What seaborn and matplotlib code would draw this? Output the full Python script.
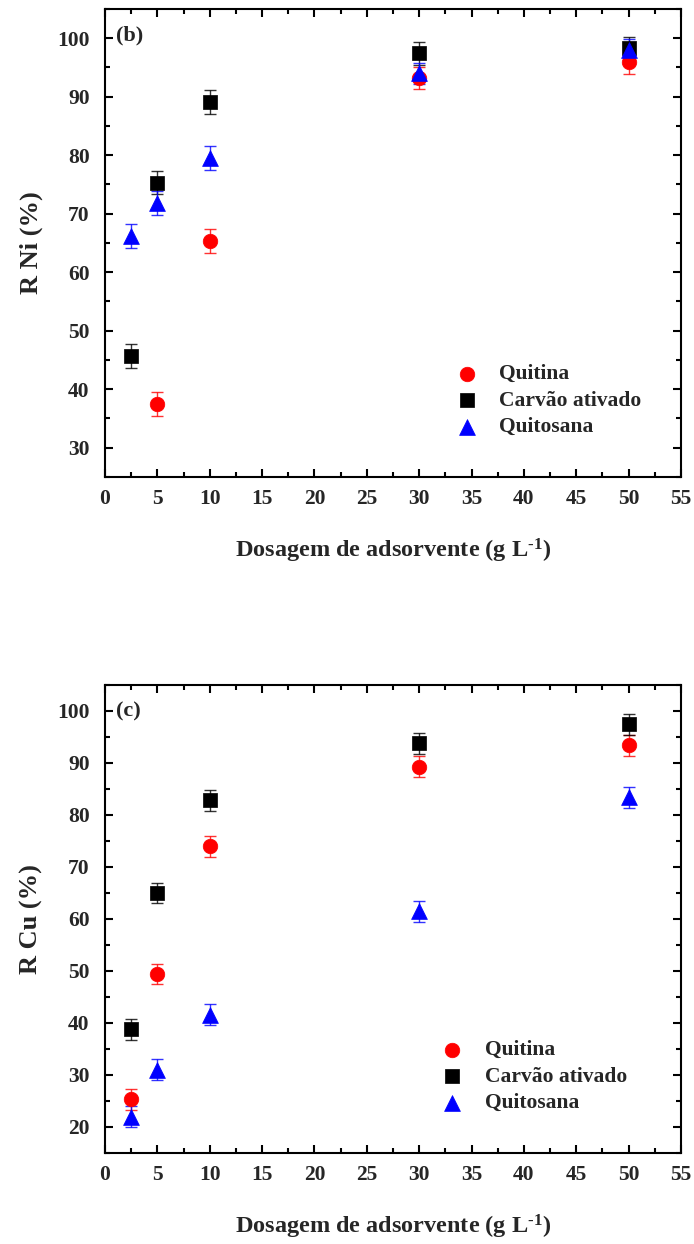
import matplotlib
matplotlib.use("Agg")
import matplotlib.pyplot as plt
import seaborn as sns
import pandas as pd
import numpy as np
from matplotlib.ticker import MultipleLocator

# ---- data ----
materials = ["Quitina", "Carvão ativado", "Quitosana"]

ni_dose_quitina = [5, 10, 30, 50]
ni_quitina = [37.5, 65.3, 93.2, 95.9]
ni_quitina_err = [2.0, 2.0, 1.8, 2.0]

ni_dose_carvao = [2.5, 5, 10, 30, 50]
ni_carvao = [45.7, 75.3, 89.1, 97.4, 98.3]
ni_carvao_err = [2.0, 2.0, 2.0, 1.9, 1.9]

ni_dose_quitosana = [2.5, 5, 10, 30, 50]
ni_quitosana = [66.2, 71.8, 79.5, 94.0, 97.9]
ni_quitosana_err = [2.0, 2.0, 2.0, 1.8, 1.9]

cu_dose_quitina = [2.5, 5, 10, 30, 50]
cu_quitina = [25.3, 49.4, 74.0, 89.3, 93.4]
cu_quitina_err = [2.0, 2.0, 2.0, 2.0, 2.0]

cu_dose_carvao = [2.5, 5, 10, 30, 50]
cu_carvao = [38.8, 65.0, 82.8, 93.8, 97.4]
cu_carvao_err = [2.0, 2.0, 2.0, 2.0, 2.0]

cu_dose_quitosana = [2.5, 5, 10, 30, 50]
cu_quitosana = [22.0, 31.0, 41.6, 61.5, 83.4]
cu_quitosana_err = [2.0, 2.0, 2.0, 2.0, 2.0]

x_ticks = [0, 5, 10, 15, 20, 25, 30, 35, 40, 45, 50, 55]

sns.set_theme(style="ticks")
plt.rcParams['font.family'] = ['Liberation Serif', 'DejaVu Serif']
plt.rcParams['font.weight'] = 'bold'
plt.rcParams['mathtext.fontset'] = 'custom'
plt.rcParams['mathtext.rm'] = 'Liberation Serif:bold'
plt.rcParams['mathtext.bf'] = 'Liberation Serif:bold'
plt.rcParams['mathtext.it'] = 'Liberation Serif:bold'

colors = {"Quitina": "#ff0000", "Carvão ativado": "#000000", "Quitosana": "#0000ff"}
marks = {"Quitina": "o", "Carvão ativado": "s", "Quitosana": "^"}
sizes = {"Quitina": 110, "Carvão ativado": 90, "Quitosana": 130}


def build(doses, vals, errs):
    rows = []
    for m, d, v, e in zip(materials, doses, vals, errs):
        for dd, vv, ee in zip(d, v, e):
            rows.append({"dose": dd, "R": vv, "err": ee, "mat": m})
    return pd.DataFrame(rows)


df_ni = build([ni_dose_quitina, ni_dose_carvao, ni_dose_quitosana],
              [ni_quitina, ni_carvao, ni_quitosana],
              [ni_quitina_err, ni_carvao_err, ni_quitosana_err])
df_cu = build([cu_dose_quitina, cu_dose_carvao, cu_dose_quitosana],
              [cu_quitina, cu_carvao, cu_quitosana],
              [cu_quitina_err, cu_carvao_err, cu_quitosana_err])

fig = plt.figure(figsize=(6.94, 12.44), dpi=100)
ax1 = fig.add_axes([0.1513, 0.6166, 0.83, 0.3762])
ax2 = fig.add_axes([0.1513, 0.0732, 0.83, 0.3762])


def draw(ax, df, ylabel, ylim, yticks, panel, legx):
    for m in materials:
        sub = df[df.mat == m]
        ax.errorbar(sub.dose, sub.R, yerr=sub.err, fmt='none', ecolor=colors[m],
                    elinewidth=1.0, capsize=4, capthick=1.0, alpha=0.8, zorder=2)
    for m in materials:
        sub = df[df.mat == m]
        sns.scatterplot(data=sub, x="dose", y="R", ax=ax, color=colors[m],
                        marker=marks[m], s=sizes[m], edgecolor=colors[m],
                        linewidth=0.5, label=m, zorder=3)
    ax.set_xlim(0, 55)
    ax.set_ylim(*ylim)
    ax.set_xticks(x_ticks)
    ax.set_yticks(yticks)
    ax.xaxis.set_minor_locator(MultipleLocator(2.5))
    ax.yaxis.set_minor_locator(MultipleLocator(5))
    ax.tick_params(which='both', direction='in', top=True, right=True,
                   labelright=False, labeltop=False, width=1.5, color='black')
    ax.tick_params(which='major', length=6, labelsize=15.5)
    ax.tick_params(axis='y', which='major', pad=11)
    ax.tick_params(axis='x', which='major', pad=9)
    ax.tick_params(which='minor', length=3.5)
    for lab in ax.get_xticklabels() + ax.get_yticklabels():
        lab.set_fontweight('bold')
    for sp in ax.spines.values():
        sp.set_linewidth(1.5)
        sp.set_color('black')
    ax.set_xlabel("Dosagem de adsorvente (g L$^{\\text{-1}}$)", fontsize=17.5,
                  fontweight='bold', labelpad=20)
    ax.set_ylabel(ylabel, fontsize=19, fontweight='bold', labelpad=10)
    ax.text(0.019, 0.965, panel, transform=ax.transAxes, fontsize=16,
            fontweight='bold', va='top', ha='left')
    ax.legend(loc='center left', bbox_to_anchor=(legx, 0.163), frameon=False,
              prop={'weight': 'bold', 'size': 15.5}, handletextpad=0.5,
              labelspacing=0.3, markerscale=1.0)


draw(ax1, df_ni, "R Ni (%)", (25, 105), [30, 40, 50, 60, 70, 80, 90, 100], "(b)", 0.557)
draw(ax2, df_cu, "R Cu (%)", (15, 105), [20, 30, 40, 50, 60, 70, 80, 90, 100], "(c)", 0.532)

fig.savefig("out.png", dpi=100)
